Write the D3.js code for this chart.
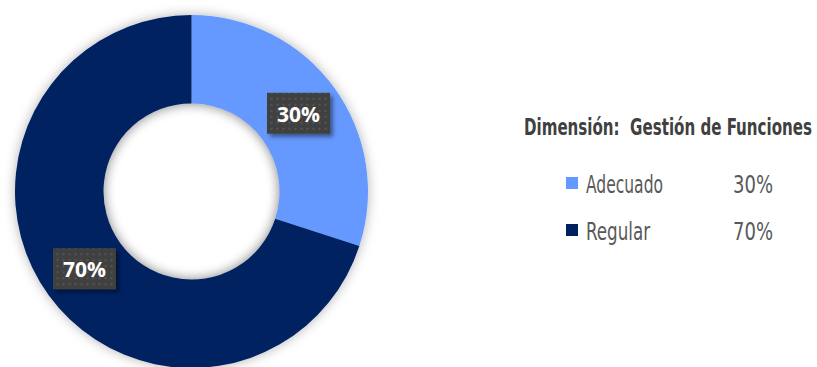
<!DOCTYPE html>
<html>
<head>
<meta charset="utf-8">
<script src="https://cdn.jsdelivr.net/npm/d3@7"></script>
<style>
  html, body { margin: 0; padding: 0; background: #fff; }
  svg { display: block; }
</style>
</head>
<body>
<div class="chart"></div>
<script>
// data
const categories = ['Adecuado', 'Regular']
const values = [30, 70]
const colors = ['#6699FF', '#002060']
const titleText = 'Dimensión:  Gestión de Funciones'

const w = 817
const h = 367
const cx = 191.5, cy = 191.5
const outerR = 176.5, innerR = 88
const legendFont = '"DejaVu Sans Condensed", "Liberation Sans Narrow", sans-serif'

const svg = d3.select('.chart')
  .append('svg')
  .attr('width', w)
  .attr('height', h)

const defs = svg.append('defs')

// soft shadow around the ring
const ringShadow = defs.append('filter')
  .attr('id', 'ringShadow')
  .attr('x', '-20%').attr('y', '-20%')
  .attr('width', '140%').attr('height', '140%')
ringShadow.append('feDropShadow')
  .attr('dx', 0).attr('dy', 0)
  .attr('stdDeviation', 6)
  .attr('flood-color', '#000')
  .attr('flood-opacity', 0.3)

const boxShadow = defs.append('filter')
  .attr('id', 'boxShadow')
  .attr('x', '-30%').attr('y', '-30%')
  .attr('width', '160%').attr('height', '160%')
boxShadow.append('feDropShadow')
  .attr('dx', 3).attr('dy', 3)
  .attr('stdDeviation', 2)
  .attr('flood-color', '#000')
  .attr('flood-opacity', 0.45)

// dotted texture for the label boxes
const pat = defs.append('pattern')
  .attr('id', 'dots')
  .attr('width', 6).attr('height', 6)
  .attr('patternUnits', 'userSpaceOnUse')
pat.append('rect').attr('width', 6).attr('height', 6).attr('fill', '#404040')
pat.append('rect').attr('x', 2).attr('y', 2).attr('width', 2).attr('height', 2).attr('fill', '#555555')

const pie = d3.pie().sort(null).value(d => d)
const arcs = pie(values)

const arc = d3.arc().innerRadius(innerR).outerRadius(outerR)

const g = svg.append('g').attr('transform', `translate(${cx},${cy})`)

g.append('g')
  .attr('filter', 'url(#ringShadow)')
  .selectAll('path')
  .data(arcs)
  .enter()
  .append('path')
  .attr('d', arc)
  .attr('fill', (d, i) => colors[i])

// inner shadow hint inside the hole
const holeShadow = defs.append('radialGradient').attr('id', 'hole')
holeShadow.append('stop').attr('offset', '85%').attr('stop-color', '#fff').attr('stop-opacity', 0)
holeShadow.append('stop').attr('offset', '100%').attr('stop-color', '#000').attr('stop-opacity', 0.12)
g.append('circle').attr('r', innerR).attr('fill', 'url(#hole)')

// data labels
const labels = g.selectAll('g.lbl')
  .data(arcs)
  .enter()
  .append('g')
  .attr('class', 'lbl')
  .attr('transform', d => `translate(${arc.centroid(d)})`)

labels.append('rect')
  .attr('x', -31.5).attr('y', -21)
  .attr('width', 63).attr('height', 41)
  .attr('fill', 'url(#dots)')
  .attr('filter', 'url(#boxShadow)')

labels.append('text')
  .attr('text-anchor', 'middle')
  .attr('y', 8)
  .attr('fill', '#fff')
  .attr('font-family', '"Open Sans", "Noto Sans", sans-serif')
  .attr('font-weight', 'bold')
  .attr('font-size', 21)
  .text(d => d.data + '%')

// legend title: condensed look via textLength + vertical stretch
svg.append('g')
  .attr('transform', 'translate(524,135) scale(1,1.4)')
  .append('text')
  .attr('fill', '#404040')
  .attr('font-family', legendFont)
  .attr('font-weight', 'bold')
  .attr('font-size', 17)
  .attr('textLength', 288)
  .attr('lengthAdjust', 'spacingAndGlyphs')
  .style('white-space', 'pre')
  .text(titleText)

const y = d3.scaleBand().domain(categories).range([170, 264])
const nameWidth = [77, 64]

const items = svg.selectAll('g.leg')
  .data(categories)
  .enter()
  .append('g')
  .attr('class', 'leg')
  .attr('transform', d => `translate(0,${y(d)})`)

items.append('rect')
  .attr('x', 566).attr('y', 7)
  .attr('width', 12).attr('height', 12)
  .attr('fill', (d, i) => colors[i])

items.append('text')
  .attr('x', 586).attr('y', 23)
  .attr('fill', '#595959')
  .attr('font-family', legendFont)
  .attr('font-size', 25)
  .attr('textLength', (d, i) => nameWidth[i])
  .attr('lengthAdjust', 'spacingAndGlyphs')
  .text(d => d)

items.append('text')
  .attr('x', 733).attr('y', 23)
  .attr('fill', '#595959')
  .attr('font-family', legendFont)
  .attr('font-size', 25)
  .attr('textLength', 40)
  .attr('lengthAdjust', 'spacingAndGlyphs')
  .text((d, i) => values[i] + '%')
</script>
</body>
</html>
